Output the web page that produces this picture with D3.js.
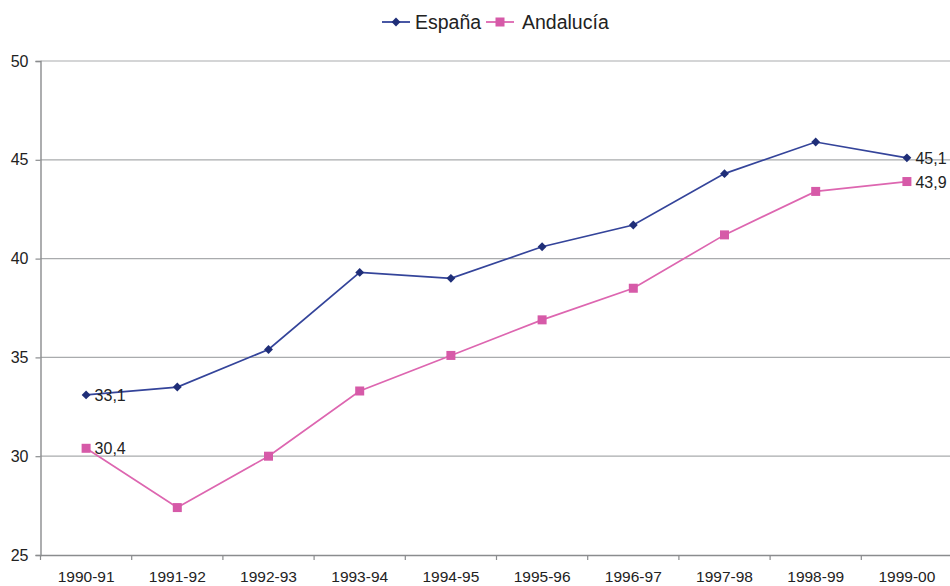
<!DOCTYPE html>
<html><head><meta charset="utf-8">
<script src="https://cdn.jsdelivr.net/npm/d3@7"></script>
<style>body{margin:0;background:#fff}svg{display:block;font-family:"Liberation Sans",Arial,sans-serif}</style>
</head><body><svg id="c" width="950" height="586"></svg>
<script>
const categories = ["1990-91","1991-92","1992-93","1993-94","1994-95","1995-96","1996-97","1997-98","1998-99","1999-00"];
const espana = [33.1,33.5,35.4,39.3,39.0,40.6,41.7,44.3,45.9,45.1];
const andalucia = [30.4,27.4,30.0,33.3,35.1,36.9,38.5,41.2,43.4,43.9];
const yTicks = [25,30,35,40,45,50];
const seriesNames = ["España","Andalucía"];
const colors = ["#34449a","#dd66b0"];
const markerColors = ["#1f2e78","#d65aa8"];

const svg = d3.select("#c");
const pLeft = 40.5, pRight = 952.5, pTop = 61, pBottom = 555;
const x = d3.scaleBand().domain(categories).range([pLeft, pRight]).padding(0);
const y = d3.scaleLinear().domain([25,50]).range([pBottom, pTop]);

svg.append("g").selectAll("line").data(yTicks.filter(t=>t>25)).join("line")
  .attr("x1", pLeft).attr("x2", pRight).attr("y1", d=>y(d)).attr("y2", d=>y(d))
  .attr("stroke", "#a9abad").attr("stroke-width", 1.2);

const ya = svg.append("g").attr("transform", `translate(${pLeft},0)`)
  .call(d3.axisLeft(y).tickValues(yTicks).tickSize(5).tickPadding(7));
ya.select(".domain").attr("stroke","#8a8c8e").attr("stroke-width",1.4);
ya.selectAll(".tick line").attr("stroke","#8a8c8e").attr("stroke-width",1.2);
ya.selectAll(".tick text").attr("font-size",16).attr("fill","#222").attr("font-family","Liberation Sans, Arial, sans-serif");

const xa = svg.append("g").attr("transform", `translate(0,${pBottom})`)
  .call(d3.axisBottom(x).tickSize(0).tickPadding(16));
xa.select(".domain").attr("stroke","#8a8c8e").attr("stroke-width",1.4);
xa.selectAll(".tick text").attr("font-size",15.5).attr("fill","#222").attr("font-family","Liberation Sans, Arial, sans-serif");
const bounds = categories.map(c => x(c));
xa.append("g").selectAll("line").data(bounds).join("line")
  .attr("x1", d=>d).attr("x2", d=>d).attr("y1", 0).attr("y2", 5)
  .attr("stroke","#8a8c8e").attr("stroke-width",1.2);

const cx = c => x(c) + x.bandwidth()/2;
const line = d3.line().x((d,i)=>cx(categories[i])).y(d=>y(d));
const data = [espana, andalucia];

data.forEach((vals, s) => {
  svg.append("path").datum(vals).attr("d", line).attr("fill","none")
    .attr("stroke", colors[s]).attr("stroke-width", 1.7);
});
const diamond = d3.symbol().type(d3.symbolDiamond2).size(50);
svg.append("g").selectAll("path").data(espana).join("path")
  .attr("transform",(d,i)=>`translate(${cx(categories[i])},${y(d)})`)
  .attr("d", diamond).attr("fill", markerColors[0]);
svg.append("g").selectAll("rect").data(andalucia).join("rect")
  .attr("x",(d,i)=>cx(categories[i])-4.5).attr("y",d=>y(d)-4.5)
  .attr("width",9).attr("height",9).attr("fill", markerColors[1]);

const fmt = v => v.toFixed(1).replace(".", ",");
data.forEach((vals) => {
  [0, vals.length-1].forEach(i => {
    svg.append("text").attr("x", cx(categories[i]) + 8.5).attr("y", y(vals[i]) + 6)
      .attr("font-size",16).attr("fill","#222").text(fmt(vals[i]));
  });
});

const legendItems = [{x:382, tx:415},{x:486, tx:522}];
seriesNames.forEach((n, s) => {
  const g = svg.append("g");
  const lx = legendItems[s].x;
  g.append("line").attr("x1", lx).attr("x2", lx+28).attr("y1", 22).attr("y2", 22)
    .attr("stroke", colors[s]).attr("stroke-width", 1.8);
  if (s === 0) g.append("path").attr("transform", `translate(${lx+14},22)`).attr("d", diamond).attr("fill", markerColors[0]);
  else g.append("rect").attr("x", lx+14-4.5).attr("y", 22-4.5).attr("width",9).attr("height",9).attr("fill", markerColors[1]);
  g.append("text").attr("x", legendItems[s].tx).attr("y", 29).attr("font-size",19.5).attr("fill","#222").text(n);
});
</script></body></html>
